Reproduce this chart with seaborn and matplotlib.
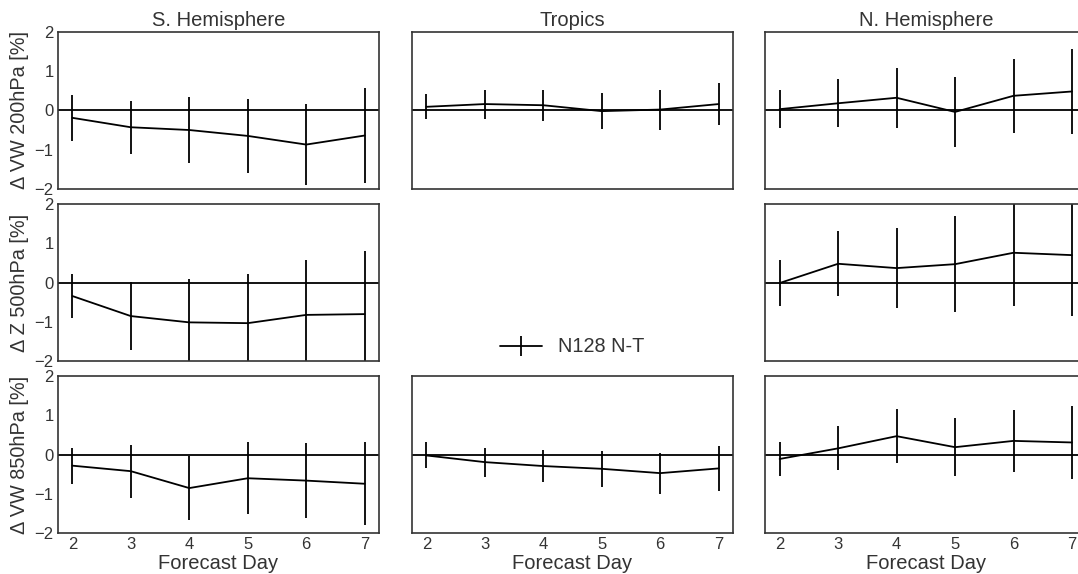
import matplotlib
matplotlib.use("Agg")
import matplotlib.pyplot as plt
import matplotlib.lines as mlines
import seaborn as sns
import numpy as np

days = [2, 3, 4, 5, 6, 7]
regions = ["S. Hemisphere", "Tropics", "N. Hemisphere"]
variables = ["\u0394 VW 200hPa [%]", "\u0394 Z 500hPa [%]", "\u0394 VW 850hPa [%]"]
series_label = "N128 N-T"

# VW 200hPa
vw200_sh = [-0.19, -0.43, -0.50, -0.65, -0.87, -0.64]
vw200_sh_err = [0.58, 0.67, 0.84, 0.95, 1.03, 1.20]
vw200_tr = [0.09, 0.16, 0.13, -0.02, 0.02, 0.16]
vw200_tr_err = [0.32, 0.37, 0.40, 0.45, 0.51, 0.54]
vw200_nh = [0.03, 0.18, 0.32, -0.04, 0.37, 0.48]
vw200_nh_err = [0.48, 0.61, 0.76, 0.88, 0.94, 1.09]
# Z 500hPa
z500_sh = [-0.34, -0.85, -1.01, -1.03, -0.82, -0.80]
z500_sh_err = [0.56, 0.86, 1.11, 1.26, 1.39, 1.60]
z500_nh = [-0.01, 0.48, 0.37, 0.47, 0.76, 0.70]
z500_nh_err = [0.59, 0.83, 1.01, 1.22, 1.36, 1.55]
# VW 850hPa
vw850_sh = [-0.28, -0.42, -0.85, -0.60, -0.66, -0.74]
vw850_sh_err = [0.46, 0.67, 0.81, 0.91, 0.96, 1.05]
vw850_tr = [-0.02, -0.19, -0.29, -0.36, -0.47, -0.35]
vw850_tr_err = [0.33, 0.37, 0.41, 0.45, 0.52, 0.57]
vw850_nh = [-0.11, 0.16, 0.47, 0.19, 0.35, 0.31]
vw850_nh_err = [0.43, 0.56, 0.68, 0.74, 0.79, 0.93]

panels = [
    [(vw200_sh, vw200_sh_err), (vw200_tr, vw200_tr_err), (vw200_nh, vw200_nh_err)],
    [(z500_sh, z500_sh_err), None, (z500_nh, z500_nh_err)],
    [(vw850_sh, vw850_sh_err), (vw850_tr, vw850_tr_err), (vw850_nh, vw850_nh_err)],
]

sns.set_style("white")
plt.rcParams["font.family"] = ["Liberation Sans", "DejaVu Sans"]
plt.rcParams["axes.edgecolor"] = "#333333"
plt.rcParams["axes.linewidth"] = 1.2
plt.rcParams["xtick.color"] = "#333333"
plt.rcParams["ytick.color"] = "#333333"
plt.rcParams["axes.labelcolor"] = "#333333"
plt.rcParams["text.color"] = "#333333"

W, H = 1078, 574
fig = plt.figure(figsize=(W / 100, H / 100), dpi=100)

col_left = [57.7, 411.7, 765.0]
row_top = [31.7, 204.0, 376.0]
aw, ah = 321.6, 157.3

for r in range(3):
    for c in range(3):
        if panels[r][c] is None:
            continue
        vals, errs = panels[r][c]
        ax = fig.add_axes([col_left[c] / W, 1 - (row_top[r] + ah) / H, aw / W, ah / H])
        ax.axhline(0, color="k", lw=1.3, zorder=1)
        sns.lineplot(x=days, y=vals, color="k", lw=1.3, ax=ax, zorder=3)
        ax.errorbar(days, vals, yerr=errs, fmt="none", ecolor="k", elinewidth=1.3, capsize=0, zorder=2)
        ax.set_xlim(1.75, 7.25)
        ax.set_ylim(-2, 2)
        ax.set_yticks([-2, -1, 0, 1, 2])
        ax.set_xticks(days)
        ax.tick_params(axis="both", length=0, labelsize=12, pad=3)
        if c == 0:
            ax.set_ylabel(variables[r], fontsize=14.3, labelpad=4)
        else:
            ax.set_yticklabels([])
        if r == 2:
            ax.set_xlabel("Forecast Day", fontsize=14.5, labelpad=1)
        else:
            ax.set_xticklabels([])
        if r == 0:
            ax.set_title(regions[c], fontsize=14.5, pad=4)

handle = mlines.Line2D([], [], color="k", lw=1.3, marker="|", markersize=15, markeredgewidth=1.3)
fig.legend([handle], [series_label], loc="center", bbox_to_anchor=(572 / W, 1 - 347 / H),
           frameon=False, fontsize=14.3, handlelength=2.1, numpoints=1, handletextpad=0.8)

fig.savefig("out.png", dpi=100)
